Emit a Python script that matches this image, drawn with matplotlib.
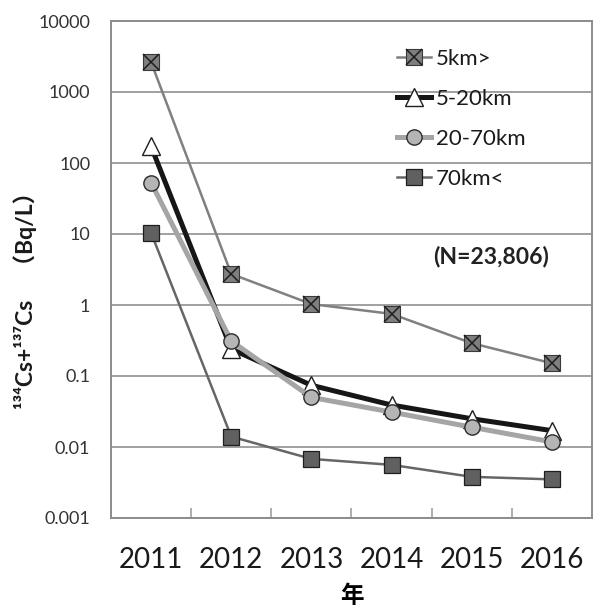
import matplotlib
matplotlib.use("Agg")
from matplotlib import pyplot as plt
from matplotlib.ticker import FixedLocator, NullFormatter
import numpy as np

years = ["2011", "2012", "2013", "2014", "2015", "2016"]
labels = ["5km>", "5-20km", "20-70km", "70km<"]
cs_5 = [2630, 2.74, 1.03, 0.75, 0.29, 0.151]
cs_5_20 = [171, 0.24, 0.074, 0.039, 0.025, 0.017]
cs_20_70 = [53, 0.31, 0.050, 0.031, 0.019, 0.0118]
cs_70 = [10.4, 0.014, 0.0068, 0.0056, 0.0038, 0.0035]

plt.rcParams['font.family'] = ['Lato', 'DejaVu Sans', 'Noto Sans CJK JP']

fig = plt.figure(figsize=(5.93, 6.12), dpi=100)
ax = fig.add_axes([111 / 593, 1 - 518 / 612, 481 / 593, 497 / 612])
x = np.arange(len(years))

l1, = ax.plot(x, cs_5, color="#808080", lw=1.8, marker="s", ms=11.5,
              mfc="#7f7f7f", mec="#3a3a3a", mew=0.8, zorder=3)
l1x, = ax.plot(x, cs_5, ls="none", marker="x", ms=11.5, mec="#1e1e1e",
               mew=1.1, zorder=4)
l2, = ax.plot(x, cs_5_20, color="#161616", lw=3.6, marker="^", ms=13,
              mfc="white", mec="#1e1e1e", mew=1.0, zorder=5)
l3, = ax.plot(x, cs_20_70, color="#a5a5a5", lw=3.6, marker="o", ms=11,
              mfc="#b5b5b5", mec="#2a2a2a", mew=1.0, zorder=6)
l4, = ax.plot(x, cs_70, color="#666666", lw=1.8, marker="s", ms=11,
              mfc="#606060", mec="#1e1e1e", mew=0.9, zorder=3)

ax.set_yscale("log")
ax.set_ylim(0.001, 10000)
ax.set_xlim(-0.5, len(years) - 0.5)
ax.yaxis.set_major_locator(FixedLocator([10.0 ** k for k in range(-3, 5)]))
ax.yaxis.set_minor_locator(FixedLocator([]))
ax.set_yticklabels(["0.001", "0.01", "0.1", "1", "10", "100", "1000", "10000"])
ax.grid(axis="y", color="#a0a0a0", lw=1.4)
ax.set_axisbelow(True)

ax.set_xticks(x)
ax.set_xticklabels(years)
ax.xaxis.set_minor_locator(FixedLocator(x[:-1] + 0.5))
ax.xaxis.set_minor_formatter(NullFormatter())
ax.tick_params(axis="x", which="major", length=0, pad=21, labelsize=20,
               labelcolor="#1a1a1a")
ax.tick_params(axis="x", which="minor", direction="in", length=7,
               color="#a0a0a0", width=1.2)
ax.tick_params(axis="y", length=0, pad=15, labelsize=13, labelcolor="#333333")

for s in ax.spines.values():
    s.set_color("#8c8c8c")
    s.set_linewidth(1.4)

ax.set_xlabel("年", fontsize=17, fontweight="bold", labelpad=8,
              family=['Noto Sans CJK JP'])

fig.text(25 / 593, 1 - 295 / 612, "¹³⁴Cs+¹³⁷Cs　（Bq/L）", rotation=90,
         ha="center", va="center", fontsize=16.5, fontweight="bold",
         color="#1a1a1a")

ax.text(0.79, 0.526, "(N=23,806)", transform=ax.transAxes, ha="center",
        va="center", fontsize=16.5, fontweight="bold", color="#222222")

ax.legend([(l1, l1x), l2, l3, l4], labels, loc="upper left",
          bbox_to_anchor=(0.594, 0.944), frameon=False, fontsize=16,
          handlelength=1.55, handletextpad=0.2, labelspacing=0.9,
          borderpad=0, borderaxespad=0, labelcolor="#1a1a1a")

fig.savefig("out.png", dpi=100)
